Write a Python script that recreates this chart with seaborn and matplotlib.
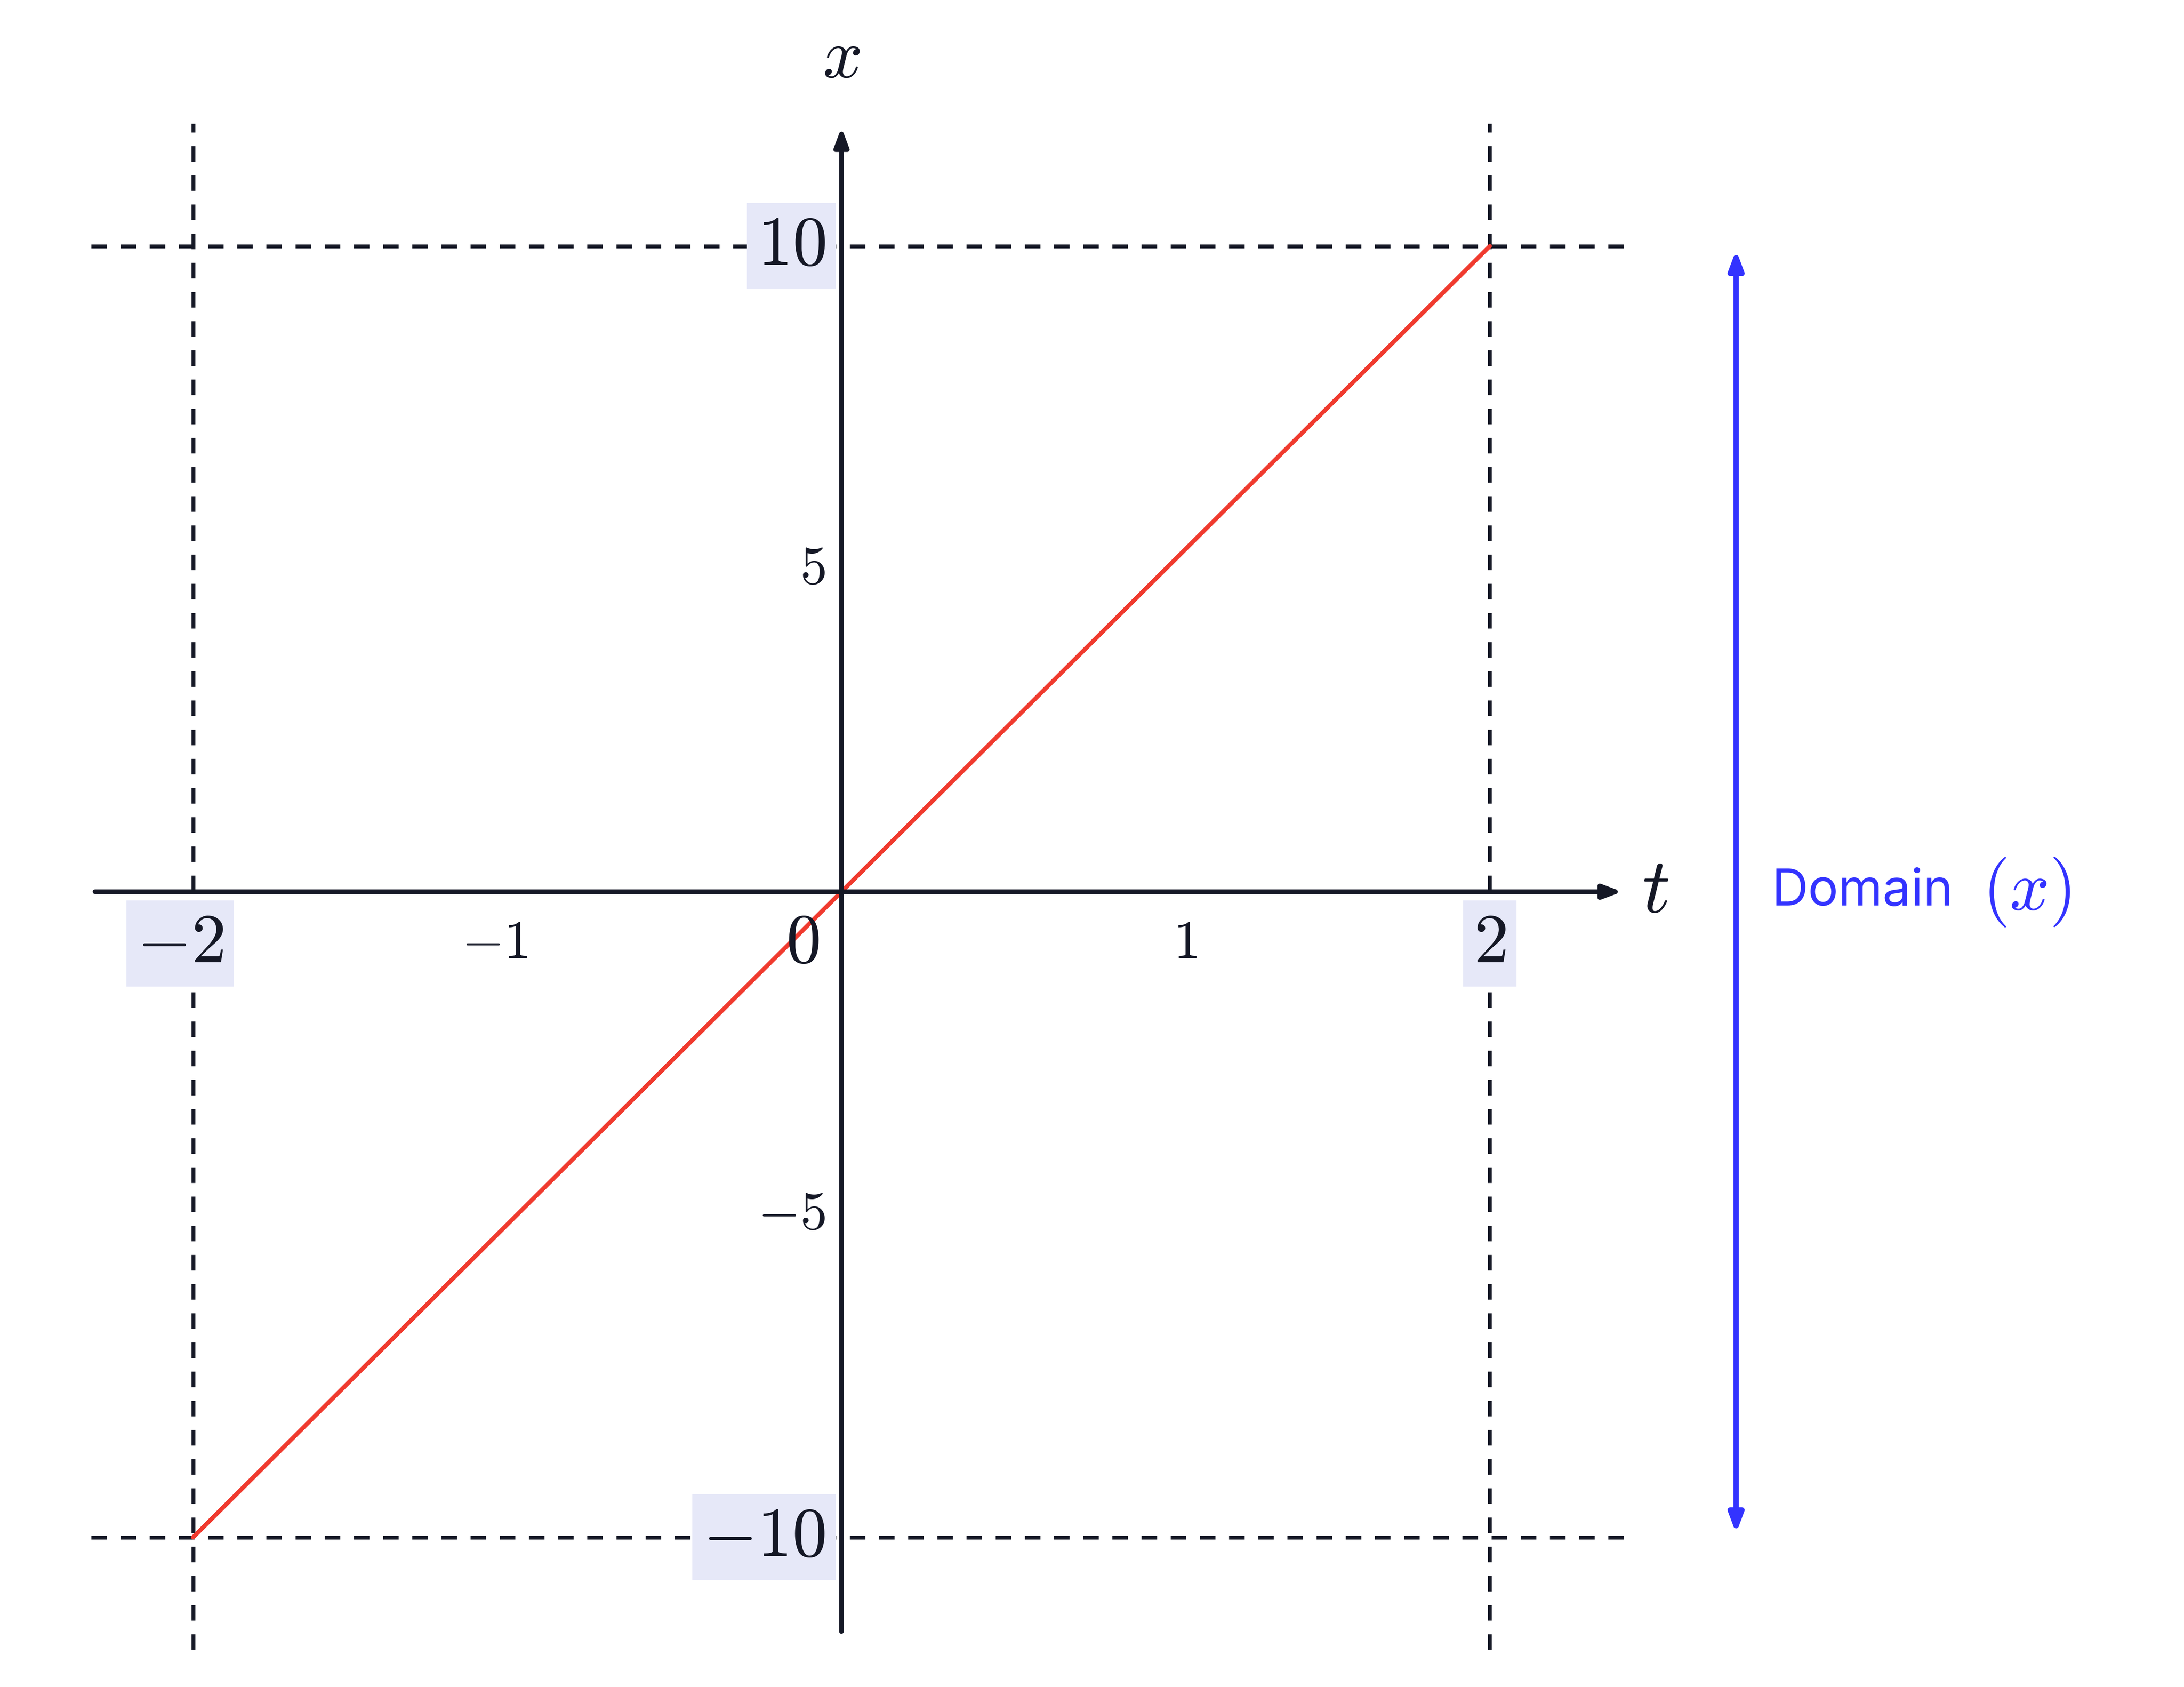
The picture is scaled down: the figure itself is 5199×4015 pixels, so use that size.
import seaborn as sns
import matplotlib.pyplot as plt
import pandas as pd

sns.set_style("white")
plt.rcParams["mathtext.fontset"] = "cm"
plt.rcParams["font.family"] = ["Inter", "DejaVu Sans"]

# data
line_t = [-2, 2]
line_x = [-10, 10]
t_ticks = [-2, -1, 0, 1, 2]
x_ticks = [10, 5, -5, -10]
t_labels = [r"$-2$", r"$-1$", r"$0$", r"$1$", r"$2$"]
x_labels = [r"$10$", r"$5$", r"$-5$", r"$-10$"]
big_t = [-2, 0, 2]
big_x = [10, -10]
boxed_t = [-2, 2]
boxed_x = [10, -10]
domain_lo, domain_hi = -10, 10

ink = "#151826"
hl = "#e6e8f8"
blue = "#3333ff"

fig = plt.figure(figsize=(15.6, 12.048), dpi=333.33)
ax = fig.add_axes([0, 0, 1, 1])
ax.set_xlim(-2.596, 4.143)
ax.set_ylim(-12.32, 13.82)
ax.axis("off")

# dashed guides
for t in [-2, 2]:
    ax.plot([t, t], [-11.74, 11.9], ls=(0, (4, 3.5)), color=ink, lw=2)
for x in [-10, 10]:
    ax.plot([-2.315, 2.415], [x, x], ls=(0, (4, 3.5)), color=ink, lw=2)

# axes with arrows
ax.annotate("", xy=(2.42, 0), xytext=(-2.315, 0),
            arrowprops=dict(arrowstyle="-|>,head_length=0.8,head_width=0.3", color=ink, lw=2.4))
ax.annotate("", xy=(0, 11.9), xytext=(0, -11.52),
            arrowprops=dict(arrowstyle="-|>,head_length=0.8,head_width=0.3", color=ink, lw=2.4))
ax.text(2.47, 0, r"$t$", fontsize=40, color=ink, ha="left", va="center")
ax.text(0, 12.4, r"$x$", fontsize=36, color=ink, ha="center", va="bottom")

# red line
df = pd.DataFrame({"t": line_t, "x": line_x})
sns.lineplot(data=df, x="t", y="x", color="#f03a2e", lw=2.2, ax=ax)

# tick labels
for t, lab in zip(t_ticks, t_labels):
    big = t in big_t
    bbox = dict(boxstyle="square,pad=0.15", fc=hl, ec="none") if t in boxed_t else None
    xpos = {0: -0.12, -1: -1.07, 1: 1.06, -2: -2.04}.get(t, t)
    ax.text(xpos, -0.8, lab, fontsize=36 if big else 28, color=ink,
            ha="center", va="center", bbox=bbox)
for x, lab in zip(x_ticks, x_labels):
    big = x in big_x
    bbox = dict(boxstyle="square,pad=0.15", fc=hl, ec="none") if x in boxed_x else None
    ax.text(-0.05, x, lab, fontsize=36 if big else 28, color=ink,
            ha="right", va="center", bbox=bbox)

# domain arrow
ax.annotate("", xy=(2.76, domain_hi), xytext=(2.76, domain_lo),
            arrowprops=dict(arrowstyle="<|-|>,head_length=0.8,head_width=0.3", color=blue, lw=2.8))
ax.text(2.87, 0, "Domain", fontsize=26, color=blue, ha="left", va="center")
ax.text(3.52, 0, r"$(x)$", fontsize=36, color=blue, ha="left", va="center")

fig.savefig("out.png", dpi=333.33, facecolor="white")
